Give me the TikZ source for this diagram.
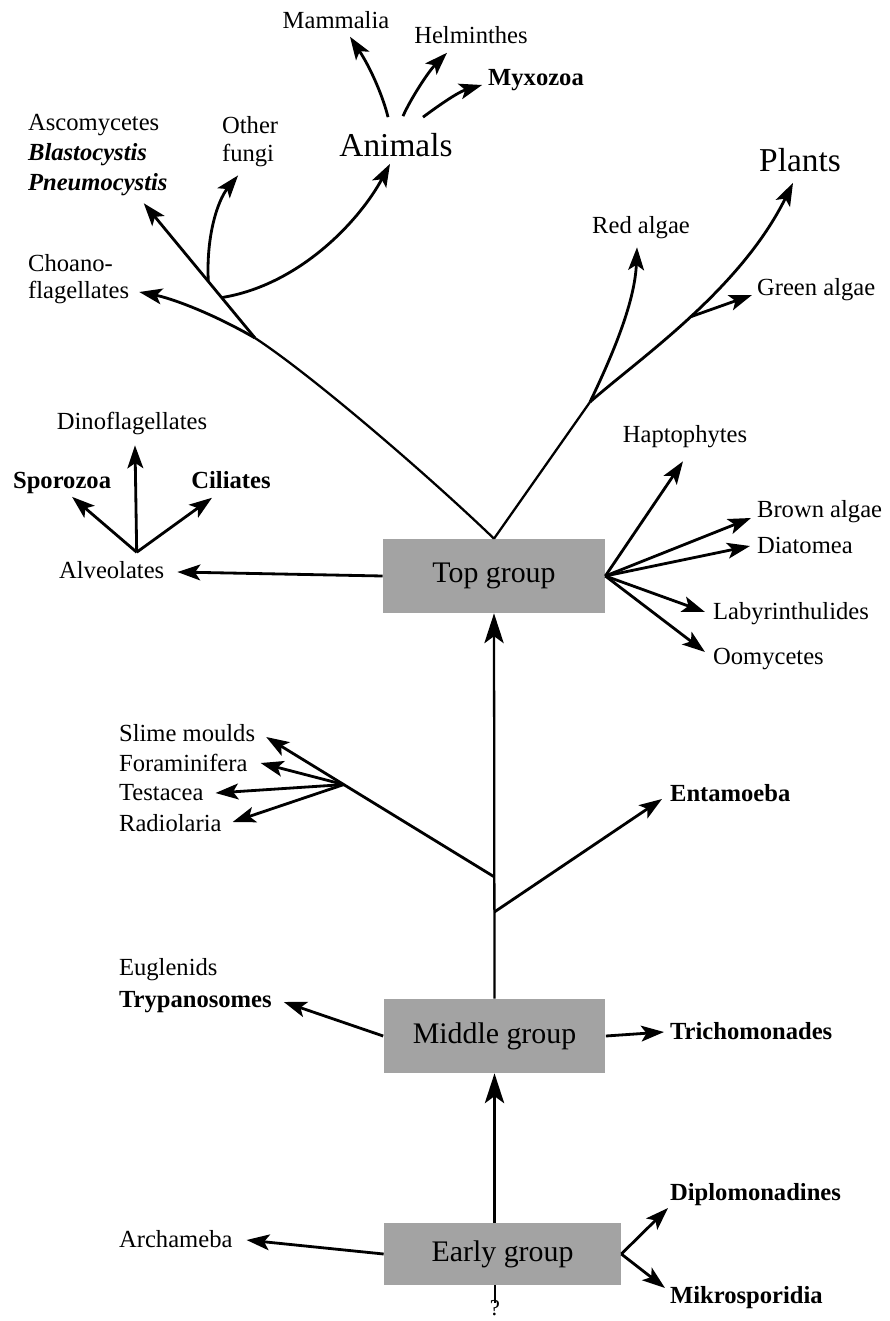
\documentclass[tikz,border=0pt]{standalone}
\usepackage{fontspec}
\setmainfont{Liberation Serif}
\usetikzlibrary{arrows.meta,positioning,calc}

\begin{document}
\begin{tikzpicture}[
  x=0.02cm, y=-0.02cm,
  every node/.style={font=\fontsize{14}{17}\selectfont, inner sep=1pt},
  bold/.style={font=\fontsize{14}{17}\selectfont\bfseries},
  clade/.style={font=\fontsize{19}{23}\selectfont},
  grp/.style={rectangle, fill=black!36, minimum width=4.44cm,
              minimum height=1.48cm, font=\fontsize{17}{20}\selectfont},
  branch/.style={line width=1.3pt},
  arr/.style={line width=1.6pt, -{Stealth[length=13pt,width=9pt,inset=3pt]}},
  trunk/.style={line width=1.3pt, -{Stealth[length=17pt,width=11pt,inset=4pt]}}
]
  \useasboundingbox (0,0) rectangle (889,1321);

  % the three groups
  \node[grp] (top)   at (494,576)    {Top group};
  \node[grp] (mid)   at (494.5,1036) {Middle group};
  \node[grp, minimum width=4.74cm, minimum height=1.24cm] (early) at (502.5,1254) {Early group};

  % upper labels
  \node (mam) at (336,20) {Mammalia};
  \node (helm) at (471,35) {Helminthes};
  \node[bold] (myxo) at (536,80) {Myxozoa};
  \node[clade] (anim) at (396,145) {Animals};
  \node[anchor=west] (asco) at (26,125) {Ascomycetes};
  \node[anchor=west, bold] (blasto) at (26,155) {\textit{Blastocystis}};
  \node[anchor=west, bold] (pneumo) at (26,185) {\textit{Pneumocystis}};
  \node[anchor=west] (other) at (220,125) {Other};
  \node[anchor=west] (fungi) at (220,155) {fungi};
  \node[anchor=west] (choano) at (26,263) {Choano-};
  \node[anchor=west] (flag) at (26,292) {flagellates};
  \node[clade] (plants) at (800,160) {Plants};
  \node (red) at (641,228) {Red algae};
  \node[anchor=west] (green) at (755,290) {Green algae};

  % around the top group
  \node (dino) at (132,423) {Dinoflagellates};
  \node[anchor=west, bold] (sporo) at (11,483) {Sporozoa};
  \node[bold] (cilia) at (231,480) {Ciliates};
  \node[anchor=west] (alv) at (57,570) {Alveolates};
  \node (hapto) at (685,437) {Haptophytes};
  \node[anchor=west] (brown) at (755,512) {Brown algae};
  \node[anchor=west] (diatom) at (755,545) {Diatomea};
  \node[anchor=west] (laby) at (711,614) {Labyrinthulides};
  \node[anchor=west] (oomy) at (711,659) {Oomycetes};

  % lower labels
  \node[anchor=west] (slime) at (117,733) {Slime moulds};
  \node[anchor=west] (fora) at (117,763) {Foraminifera};
  \node[anchor=west] (testa) at (117,793) {Testacea};
  \node[anchor=west] (radio) at (117,823) {Radiolaria};
  \node[anchor=west, bold] (entam) at (668,793) {Entamoeba};
  \node[anchor=west] (eugl) at (117,970) {Euglenids};
  \node[anchor=west, bold] (trypa) at (117,1002) {Trypanosomes};
  \node[anchor=west, bold] (trich) at (668,1031) {Trichomonades};
  \node[anchor=west] (arch) at (117,1239) {Archameba};
  \node[anchor=west, bold] (diplo) at (668,1195) {Diplomonadines};
  \node[anchor=west, bold] (mikro) at (668,1298) {Mikrosporidia};
  \node[inner sep=0pt, font=\fontsize{13}{15}\selectfont] (quest) at (495,1308) {?};

  \coordinate (jA) at (255,338);
  \coordinate (jR) at (590,402);
  \coordinate (jG) at (690,317);
  \coordinate (jAl) at ([shift={(25,-7)}]alv.north);

  % opisthokont side
  \draw[branch] (top.north) .. controls (430,477) and (313,376) .. (jA);
  \draw[arr] (jA) -- coordinate[pos=0.3] (jM) coordinate[pos=0.42] (jF) ([shift={(46,5)}]pneumo.south);
  \draw[arr] (jA) .. controls (210,312) and (170,298) .. ([shift={(8,0)}]flag.east);
  \draw[arr] (jF) .. controls (206,235) and (218,200) .. ([shift={(-10,7)}]fungi.south);
  \draw[arr] (jM) .. controls (300,285) and (360,220) .. ([shift={(-6,5)}]anim.south);
  \draw[arr] ([shift={(-8,-14)}]anim.north) .. controls (384,100) and (372,70) .. ([shift={(14,6)}]mam.south);
  \draw[arr] ([shift={(7,-15)}]anim.north) .. controls (410,100) and (428,72) .. ([shift={(-24,7)}]helm.south);
  \draw[arr] ([shift={(27,-14)}]anim.north) .. controls (438,106) and (458,92) .. ([shift={(-4,5)}]myxo.west);

  % plant side
  \draw[branch] (top.north) -- (jR);
  \draw[arr] (jR) .. controls (640,358) and (740,290) .. ([shift={(-7,9)}]plants.south);
  \draw[arr] (jR) .. controls (615,350) and (635,300) .. ([shift={(-4,6)}]red.south);
  \draw[arr] (jG) -- ([shift={(-3,5)}]green.west);

  \draw[arr] (top.east) -- ([shift={(-2,11)}]hapto.south);
  \draw[arr] (top.east) -- ([shift={(-4,6)}]brown.west);
  \draw[arr] (top.east) -- ([shift={(-5,1)}]diatom.west);
  \draw[arr] (top.east) -- ([shift={(-6,-2)}]laby.west);
  \draw[arr] (top.east) -- ([shift={(-6,-7)}]oomy.west);

  \draw[arr] (top.west) -- ([shift={(11,2)}]alv.east);
  \draw[arr] (jAl) -- ([shift={(3,9)}]dino.south);
  \draw[arr] (jAl) -- ([shift={(10,1)}]sporo.south);
  \draw[arr] (jAl) -- ([shift={(-19,7)}]cilia.south);

  % trunk
  \draw[trunk] (mid.north) -- coordinate[pos=0.225] (jE) coordinate[pos=0.316] (jS) (top.south);
  \draw[arr] (jE) -- ([shift={(-6,6)}]entam.west);
  \draw[arr] (jS) -- coordinate[pos=0.66] (jT) ([shift={(9,4)}]slime.east);
  \draw[arr] (jT) -- ([shift={(11,0)}]fora.east);
  \draw[arr] (jT) -- ([shift={(10,0)}]testa.east);
  \draw[arr] (jT) -- ([shift={(9,-1)}]radio.east);

  \draw[arr] (mid.west) -- ([shift={(10,0)}]trypa.east);
  \draw[arr] (mid.east) -- ([shift={(-4,1)}]trich.west);
  \draw[trunk] (early.north -| mid.south) -- (mid.south);
  \draw[arr] (early.west) -- ([shift={(12,1)}]arch.east);
  \draw[arr] (early.east) -- ([shift={(0,13)}]diplo.west);
  \draw[arr] (early.east) -- ([shift={(-3,-10)}]mikro.west);
  \draw[branch] (early.south -| quest) -- ([yshift=-2pt]quest.north);
\end{tikzpicture}
\end{document}
